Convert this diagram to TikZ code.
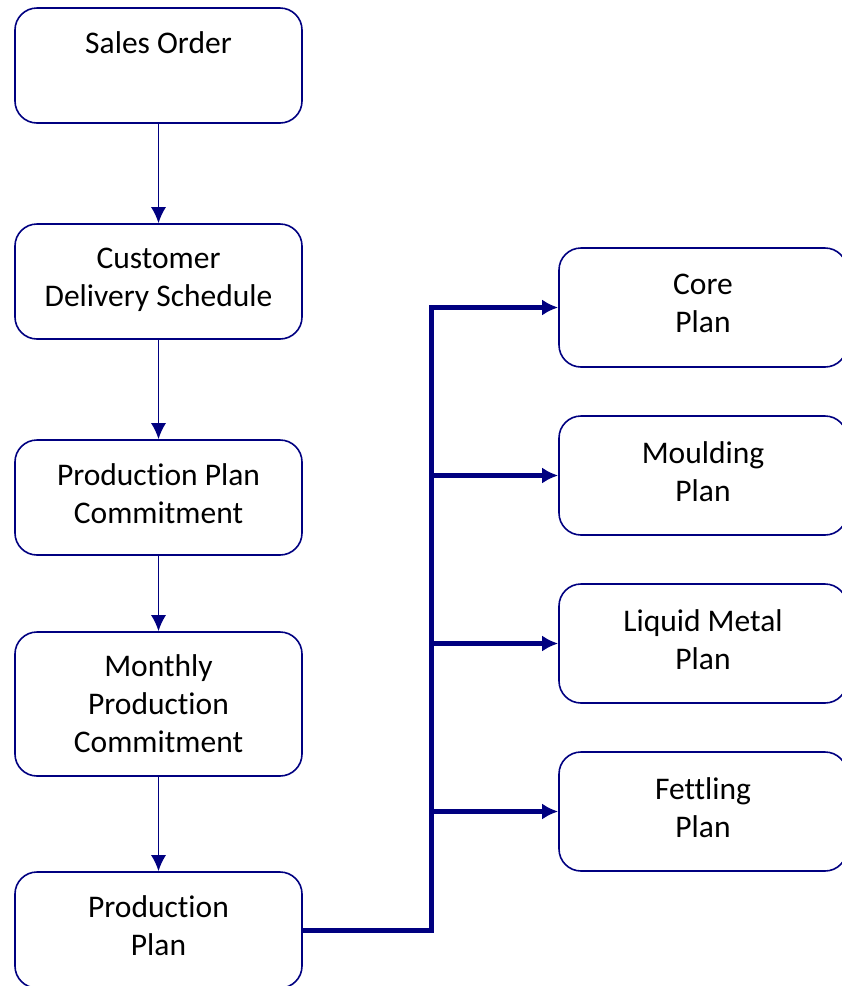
\documentclass[tikz,border=0pt]{standalone}
\usepackage{fontspec}
\setmainfont{Carlito}[Ligatures=NoCommon]
\usetikzlibrary{arrows.meta,calc}
\definecolor{planblue}{RGB}{0,0,128}
\tikzset{stage/.style={draw=planblue, line width=1.6pt, rounded corners=22pt, minimum width=287pt, minimum height=115pt, align=center, text depth=8pt, font=\fontsize{31.5}{38}\selectfont},
         plan/.style = {stage, minimum width=288pt, minimum height=119pt},
         line/.style = {-{Latex[length=16pt,width=15pt]}, line width=1.6pt, draw=planblue},
         busline/.style = {-{Latex[length=16pt,width=16pt]}, line width=5pt, draw=planblue}}

\begin{document}
\begin{tikzpicture}[x=1pt,y=1pt]
\useasboundingbox (0,0) rectangle (842,-986);

% left column
\node (sales) [stage] at (158.5,-65.5) {Sales Order\\ \mbox{}};
\node (cust) [stage] at (158.5,-281.5) {Customer\\Delivery Schedule};
\node (ppc) [stage] at (158.5,-497.5) {Production Plan\\Commitment};
\node (mpc) [stage, minimum height=144pt, text depth=0pt] at (158.5,-704) {Monthly\\Production\\Commitment};
\node (pp) [stage, minimum height=116pt] at (158.5,-930) {Production\\Plan};

% right column
\node (core) [plan] at (703,-307.5) {Core\\Plan};
\node (mould) [plan] at (703,-475.5) {Moulding\\Plan};
\node (liquid) [plan] at (703,-643.5) {Liquid Metal\\Plan};
\node (fettle) [plan] at (703,-811.5) {Fettling\\Plan};

% Draw connections between nodes
\draw [line] (sales) -- (cust);
\draw [line] (cust) -- (ppc);
\draw [line] (ppc) -- (mpc);
\draw [line] (mpc) -- (pp);

\coordinate (bus) at (431,0);
\draw [busline] (pp.east) -| (bus |- core.west) -- (core.west);
\foreach \n in {mould,liquid,fettle}
  \draw [busline] (bus |- \n.west) -- (\n.west);
\end{tikzpicture}
\end{document}
